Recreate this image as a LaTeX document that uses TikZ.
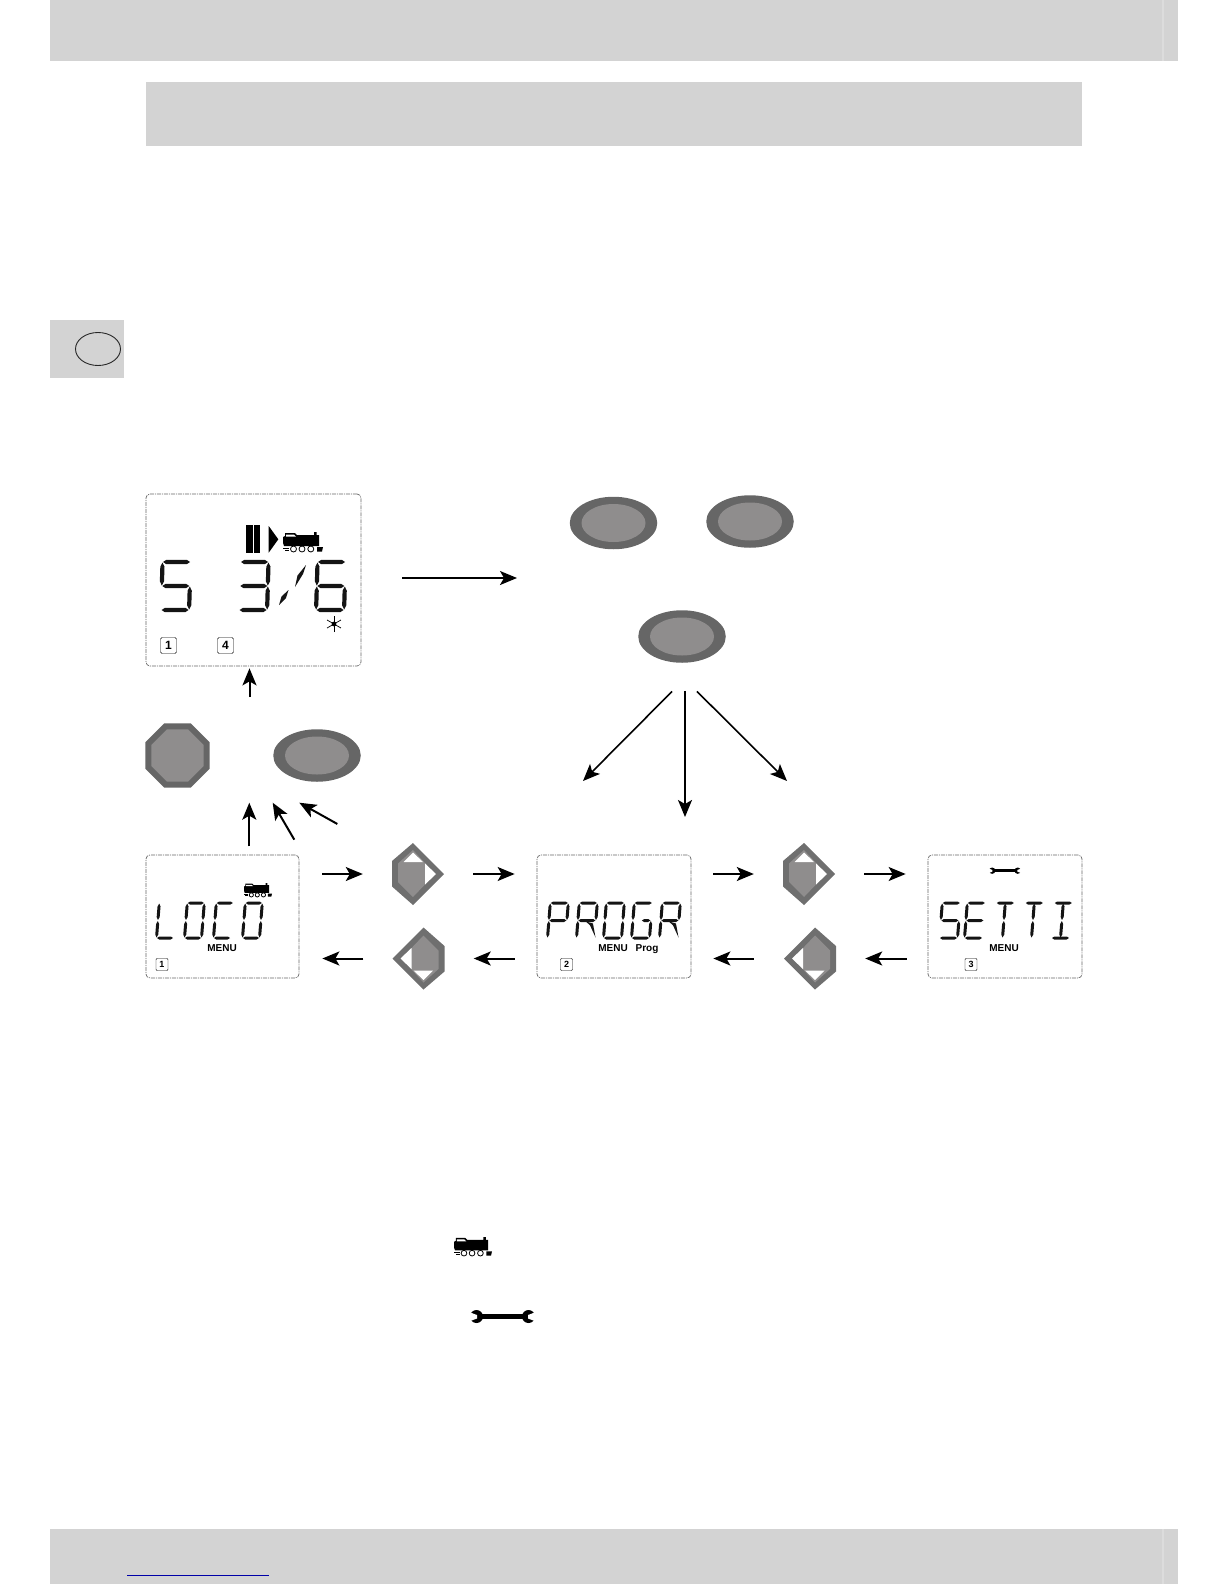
\documentclass[tikz,border=0pt]{standalone}
\usepackage{fontspec}
\setsansfont{Liberation Sans}
\usetikzlibrary{arrows.meta,shapes.geometric}

\definecolor{bandgray}{HTML}{D3D3D3}
\definecolor{stripegray}{HTML}{DCDCDC}
\definecolor{keydark}{HTML}{666666}
\definecolor{keyrim}{HTML}{6F6F6F}
\definecolor{keylight}{HTML}{8F8D8D}
\definecolor{linkblue}{HTML}{0000A8}

\tikzset{
  lcdseg/.style={fill=black!92},
  lcdpanel/.style={rectangle,draw=black!60,line width=.7pt,rounded corners=4pt,
    dash pattern=on 4pt off 1pt on 1pt off 1pt,inner sep=0pt},
  ovalkey/.style={ellipse,fill=keydark,inner sep=0pt,minimum width=87.5pt,minimum height=52.5pt,
    path picture={\fill[keylight] (path picture bounding box.center) ellipse (32 and 19);}},
  keyspot/.style={rectangle,inner sep=0pt,minimum width=54pt,minimum height=64pt},
  numboxbig/.style={rectangle,draw,rounded corners=1.5pt,inner sep=0pt,minimum size=16pt,
    font=\sffamily\bfseries\fontsize{12}{12}\selectfont},
  numboxsmall/.style={rectangle,draw,rounded corners=1pt,inner sep=0pt,minimum size=12pt,
    font=\sffamily\bfseries\fontsize{9}{9}\selectfont},
  menulabel/.style={inner sep=0pt,anchor=base,font=\sffamily\bfseries\fontsize{10}{10}\selectfont},
  linkthin/.style={->,line width=1.6pt},
  linkthick/.style={->,line width=2pt},
  dirkey/.pic={
    \fill[keyrim] (-5,-31) -- (26,0) -- (-5,31) -- (-26,12.5) -- (-26,-13) -- cycle;
    \fill[keylight] (-5,-24) -- (17,0) -- (-5,23) -- (-20,8) -- (-20,-10.5) -- cycle;
    \fill[white] (-5,-21.5) -- (5,-12) -- (-14.5,-12) -- cycle;
    \fill[white] (18,0) -- (7,10.5) -- (7,-10.5) -- cycle;
  },
  loco/.pic={
    \fill (2,1) -- (12,1) -- (14,3) -- (31,3) -- (31,0) -- (33.5,0) -- (33.5,3) -- (36,3) -- (36,14)
      -- (1,14) -- (0,11) -- (0,5) -- (2,4) -- cycle;
    \fill[white] (3,2.6) -- (11,2.6) -- (13,4.6) -- (3,4.6) -- cycle;
    \draw[line width=.8pt] (0,16) -- (6,16) (2,18) -- (6,18);
    \foreach \wx in {10.5,19,27.8} \draw[line width=.8pt,fill=white] (\wx,17) circle (3);
    \fill (34,15) -- (40,15) -- (39,19.5) -- (34,19.5) -- cycle;
  },
  wrench/.pic={
    \fill (10,5) rectangle (55,10);
    \fill (6.5,7.5) circle (6.5);
    \fill (58.5,7.5) circle (6.5);
    \fill[white] (-1,3) -- (7,6) -- (7,9.5) -- (-1,12.5) -- cycle;
    \fill[white] (66,3) -- (58,6) -- (58,9.5) -- (66,12.5) -- cycle;
  },
}

% one bar of a display glyph
\newcommand{\seghor}[3]{\fill[lcdseg] ({#1},{#3}) -- ({#1+1.5*\gt},{#3-\gt}) -- ({#2-1.5*\gt},{#3-\gt})
  -- ({#2},{#3}) -- ({#2-1.5*\gt},{#3+\gt}) -- ({#1+1.5*\gt},{#3+\gt}) -- cycle;}
\newcommand{\segver}[3]{\fill[lcdseg] ({#1},{#2}) -- ({#1+\gt},{#2+2*\gt}) -- ({#1+\gt},{#3-2*\gt})
  -- ({#1},{#3}) -- ({#1-\gt},{#3-2*\gt}) -- ({#1-\gt},{#2+2*\gt}) -- cycle;}
\newcommand{\lsega}{\seghor{.5}{\gw-.5}{0}}
\newcommand{\lsegb}{\segver{\gw}{.5}{\gh/2-.5}}
\newcommand{\lsegc}{\segver{\gw}{\gh/2+.5}{\gh-.5}}
\newcommand{\lsegd}{\seghor{.5}{\gw-.5}{\gh}}
\newcommand{\lsege}{\segver{0}{\gh/2+.5}{\gh-.5}}
\newcommand{\lsegf}{\segver{0}{.5}{\gh/2-.5}}
\newcommand{\lsegg}{\seghor{.5}{\gw-.5}{\gh/2}}
\newcommand{\lsegh}{\segver{\gw/2}{.5}{\gh/2-.5}}
\newcommand{\lsegi}{\segver{\gw/2}{\gh/2+.5}{\gh-.5}}
% right half of the middle bar, and the leg of the R
\newcommand{\lsegk}{\seghor{\gw/2}{\gw-.5}{\gh/2}}
\newcommand{\lsegj}{\fill[lcdseg] ({\gw*.45},{\gh/2+1}) -- ({\gw*.85},{\gh/2+3}) -- ({\gw+1},{\gh-.5})
  -- ({\gw*.7},{\gh/2+5}) -- cycle;}
% glyph: left x, top y, list of bars
\newcommand{\lcdglyph}[3]{\begin{scope}[shift={({#1+\gs*\gh+\gt},#2)},xslant=\gs]
  \edef\glist{#3}
  \foreach \s in \glist {\csname lseg\s\endcsname}
\end{scope}}

\begin{document}
\begin{tikzpicture}[x=1pt,y=-1pt,>={Stealth[length=17pt,width=14pt,inset=4pt]}]
  \useasboundingbox (0,0) rectangle (1224,1584);
  % page bands
  \fill[bandgray] (49.5,0) rectangle (1178,61);
  \fill[bandgray] (145.5,82) rectangle (1082,146);
  \fill[bandgray] (49.5,1529) rectangle (1178,1584);
  \fill[stripegray] (1162,0) rectangle (1164,61);
  \fill[stripegray] (1162,1529) rectangle (1164,1584);
  % language tab
  \fill[bandgray] (50,320) rectangle (124,378);
  \draw[line width=.9pt,black!85] (98,349) ellipse (22.5 and 16.5);
  % link line
  \draw[linkblue,line width=1pt] (127,1575) -- (269,1575);

  % display panels
  \node[lcdpanel,minimum width=215pt,minimum height=172pt] (lcdspeed) at (253.5,580) {};
  \node[lcdpanel,minimum width=153pt,minimum height=123pt] (lcdloco) at (222.5,916.5) {};
  \node[lcdpanel,minimum width=154pt,minimum height=123pt] (lcdprog) at (614,916.5) {};
  \node[lcdpanel,minimum width=154pt,minimum height=123pt] (lcdset) at (1005,916.5) {};

  % speed display
  \fill (246,525) rectangle (252.7,553);
  \fill (254,525) rectangle (260,553);
  \fill (268.7,526) -- (278.3,539.3) -- (268.7,552.7) -- cycle;
  \pic at (283,532) {loco};
  \begin{scope}
    \def\gw{28}\def\gh{48}\def\gt{2.1}\def\gs{0.03}
    \lcdglyph{159}{562}{a,f,g,c,d}
    \lcdglyph{237}{562}{a,b,g,c,d}
    \lcdglyph{314}{562}{a,f,g,e,c,d}
  \end{scope}
  \fill[lcdseg] (306,565) -- (303,574) -- (295,587) -- (297.5,575.5) -- cycle;
  \fill[lcdseg] (288.5,590) -- (286,598) -- (279,605) -- (281.5,596.5) -- cycle;
  \foreach \a in {30,90,150} \draw[line width=.7pt] (334,624) ++(\a:8) -- ++(\a:-16);
  \fill (334,624) circle (2.4);
  \node[numboxbig] (spdone) at (168.5,645.5) {1};
  \node[numboxbig] (spdfour) at (225.5,645.5) {4};

  % loco menu display
  \pic[scale=.7] at (244,883) {loco};
  \begin{scope}
    \def\gw{17}\def\gh{35}\def\gt{1.5}\def\gs{0.08}
    \foreach \gx/\gl in {155/{d,e,f},183/{a,b,c,d,e,f},212/{a,d,e,f},241/{a,b,c,d,e,f}}
      {\lcdglyph{\gx}{903}{\gl}}
  \end{scope}
  \node[menulabel] (menuloco) at (222,951.5) {MENU};
  \node[numboxsmall] (numloco) at (162,964.5) {1};

  % programming menu display
  \begin{scope}
    \def\gw{18}\def\gh{35}\def\gt{1.5}\def\gs{0.08}
    \foreach \gx/\gl in {546/{a,b,e,f,g},575/{a,b,e,f,g,j},602/{a,b,c,d,e,f},630/{a,c,d,e,f,k},658/{a,b,e,f,g,j}}
      {\lcdglyph{\gx}{903}{\gl}}
  \end{scope}
  \node[menulabel] (menuprog) at (613,951.5) {MENU};
  \node[menulabel] (progtag) at (647,951.5) {Prog};
  \node[numboxsmall] (numprog) at (566.5,964.5) {2};

  % settings menu display
  \pic[scale=.49] at (989,867) {wrench};
  \begin{scope}
    \def\gw{18}\def\gh{35}\def\gt{1.5}\def\gs{0.08}
    \foreach \gx/\gl in {938/{a,f,g,c,d},963/{a,f,g,e,d},992/{a,h,i},1021/{a,h,i},1050/{a,d,h,i}}
      {\lcdglyph{\gx}{903}{\gl}}
  \end{scope}
  \node[menulabel] (menuset) at (1004,951.5) {MENU};
  \node[numboxsmall] (numset) at (971,964.5) {3};

  % oval keys
  \node[ovalkey] (btnA) at (613.5,523) {};
  \node[ovalkey] (btnB) at (750,521.5) {};
  \node[ovalkey] (btnC) at (682,636.5) {};
  \node[ovalkey] (btnmenu) at (317,755.5) {};
  % stop key
  \node[regular polygon,regular polygon sides=8,draw=keydark,fill=keylight,
    line width=6pt,inner sep=0pt,minimum size=62.8pt] (octstop) at (177.5,755.5) {};

  % arrow keys
  \node[keyspot] (keyloco) at (418,874) {};
  \node[keyspot] (keylocob) at (418.5,958.5) {};
  \node[keyspot] (keyprog) at (809,874) {};
  \node[keyspot] (keyprogb) at (810,958.5) {};
  \pic at (keyloco) {dirkey};
  \pic[rotate=180] at (keylocob) {dirkey};
  \pic at (keyprog) {dirkey};
  \pic[rotate=180] at (keyprogb) {dirkey};

  % free arrow ends
  \coordinate (goalright) at (517,578);
  \coordinate (fromup) at (249.5,697);
  \coordinate (fanl) at (583,781);
  \coordinate (fanm) at (685,817);
  \coordinate (fanr) at (787,781);
  \coordinate (upa) at (249.3,802.7);
  \coordinate (upb) at (272.7,802.7);
  \coordinate (upc) at (299.3,802.7);

  % upper row
  \draw[linkthin,shorten <=23pt,shorten >=28pt] (lcdloco.east |- keyloco) -- (keyloco);
  \draw[linkthin,shorten <=28pt,shorten >=22pt] (keyloco) -- (lcdprog.west |- keyloco);
  \draw[linkthin,shorten <=22pt,shorten >=28pt] (lcdprog.east |- keyprog) -- (keyprog);
  \draw[linkthin,shorten <=28pt,shorten >=22pt] (keyprog) -- (lcdset.west |- keyprog);
  % lower row
  \draw[linkthick,shorten <=28pt,shorten >=23pt] (keylocob) -- (lcdloco.east |- keylocob);
  \draw[linkthick,shorten <=22pt,shorten >=28pt] (lcdprog.west |- keylocob) -- (keylocob);
  \draw[linkthick,shorten <=29pt,shorten >=22pt] (keyprogb) -- (lcdprog.east |- keyprogb);
  \draw[linkthick,shorten <=21pt,shorten >=28pt] (lcdset.west |- keyprogb) -- (keyprogb);
  % from the speed display
  \draw[linkthin,shorten <=41pt] (lcdspeed.east |- goalright) -- (goalright);
  \draw[linkthick,shorten >=2pt] (fromup) -- (lcdspeed.south -| fromup);
  % fan below the key
  \draw[linkthin] ([xshift=-10pt,yshift=-28.5pt]btnC.south) -- (fanl);
  \draw[linkthin] ([xshift=3pt,yshift=-28pt]btnC.south) -- (fanm);
  \draw[linkthin] ([xshift=15pt,yshift=-28.5pt]btnC.south) -- (fanr);
  % up from the loco display
  \draw[linkthick] ([xshift=26.8pt,yshift=8.3pt]lcdloco.north) -- (upa);
  \draw[linkthick] ([xshift=71.8pt,yshift=15pt]lcdloco.north) -- (upb);
  \draw[linkthick] ([xshift=114.8pt,yshift=30.7pt]lcdloco.north) -- (upc);

  % symbols in the text
  \pic[scale=.95] at (454,1237) {loco};
  \pic at (470,1309) {wrench};
\end{tikzpicture}
\end{document}
